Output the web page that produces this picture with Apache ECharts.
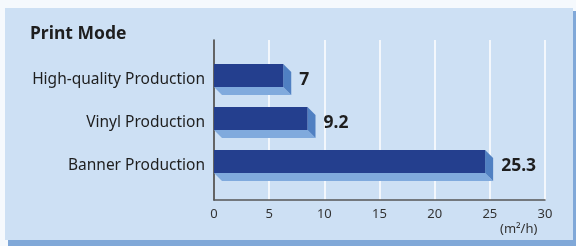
<!DOCTYPE html>
<html>
<head>
    <meta charset="utf-8">
    <title>Print Mode</title>
    <script src="https://cdn.jsdelivr.net/npm/echarts@6/dist/echarts.min.js"></script>
    <style>
        html, body { margin: 0; padding: 0; background: #f5f9fd; }
        #main { width: 576px; height: 246px; }
    </style>
</head>
<body>
<div id="main"></div>
<script type="text/javascript">
    var modes = ['High-quality Production', 'Vinyl Production', 'Banner Production'];
    var speeds = [7, 9.2, 25.3];
    var xTicks = [0, 5, 10, 15, 20, 25, 30];
    var unitText = '(m²/h)';

    var myChart = echarts.init(document.getElementById('main'));

    var barData = speeds.map(function (v, i) { return [i, v]; });

    // 3d bar: dark front face, light bottom face, mid-blue side face
    var renderBar = function (params, api) {
        var cat = api.value(0);
        var val = api.value(1);
        var start = api.coord([0, cat]);
        var end = api.coord([val, cat]);
        var h = 23, d = 8;
        var x0 = start[0];
        var y0 = start[1] - (h + d) / 2;
        var x1 = end[0] - d;
        return {
            type: 'group',
            children: [
                {
                    type: 'polygon',
                    shape: { points: [[x0, y0 + h], [x1, y0 + h], [x1 + d, y0 + h + d], [x0 + d, y0 + h + d]] },
                    style: { fill: '#80aadd' }
                },
                {
                    type: 'polygon',
                    shape: { points: [[x1, y0], [x1 + d, y0 + d], [x1 + d, y0 + h + d], [x1, y0 + h]] },
                    style: { fill: '#5080c2' }
                },
                {
                    type: 'rect',
                    shape: { x: x0, y: y0, width: x1 - x0, height: h },
                    style: { fill: '#243f8e' }
                },
                {
                    type: 'text',
                    x: x1 + d + 8,
                    y: y0 + (h + d) / 2 + 1,
                    style: {
                        text: String(val),
                        fill: '#1e1e1e',
                        font: 'bold 17.5px "Noto Sans"',
                        verticalAlign: 'middle',
                        align: 'left'
                    }
                }
            ]
        };
    };

    var option = {
        animation: false,
        graphic: [
            { type: 'rect', z: -10, silent: true, shape: { x: 8, y: 11, width: 568, height: 235 }, style: { fill: '#80a8d8' } },
            { type: 'rect', z: -10, silent: true, shape: { x: 5, y: 8, width: 568, height: 232 }, style: { fill: '#cde0f4' } },
            {
                type: 'text', z: 5, left: 30, top: 25,
                style: { text: 'Print Mode', fill: '#1e1e1e', font: 'bold 17.5px "Noto Sans"' }
            },
            {
                type: 'text', z: 5, left: 500, top: 223,
                style: { text: unitText, fill: '#333', font: '13px "Noto Sans"' }
            }
        ],
        grid: [
            { left: 214, right: 31, top: 40, bottom: 46 },
            { left: 214, right: 31, top: 58, bottom: 59 }
        ],
        xAxis: [
            {
                gridIndex: 0,
                type: 'value',
                min: xTicks[0],
                max: xTicks[xTicks.length - 1],
                interval: 5,
                axisLine: { show: true, lineStyle: { color: '#555', width: 1.5 } },
                axisTick: { show: false },
                axisLabel: { color: '#333', fontSize: 13, fontFamily: 'Noto Sans', margin: 8 },
                splitLine: { show: true, lineStyle: { color: '#ffffff', width: 1.5 } }
            },
            {
                gridIndex: 1,
                type: 'value',
                min: xTicks[0],
                max: xTicks[xTicks.length - 1],
                show: false
            }
        ],
        yAxis: [
            {
                gridIndex: 0,
                type: 'category',
                data: modes,
                axisLine: { show: true, onZero: false, lineStyle: { color: '#333', width: 1.5 } },
                axisTick: { show: false },
                axisLabel: { show: false },
                splitLine: { show: false }
            },
            {
                gridIndex: 1,
                type: 'category',
                data: modes,
                inverse: true,
                axisLine: { show: false },
                axisTick: { show: false },
                axisLabel: {
                    color: '#1e1e1e',
                    fontSize: 15.5,
                    fontFamily: 'Noto Sans',
                    margin: 9,
                    padding: [0, 0, 14, 0]
                }
            }
        ],
        series: [
            {
                type: 'custom',
                xAxisIndex: 1,
                yAxisIndex: 1,
                renderItem: renderBar,
                encode: { x: 1, y: 0 },
                data: barData
            }
        ]
    };
    myChart.setOption(option);

    window.onresize = myChart.resize;
</script>
</body>
</html>
